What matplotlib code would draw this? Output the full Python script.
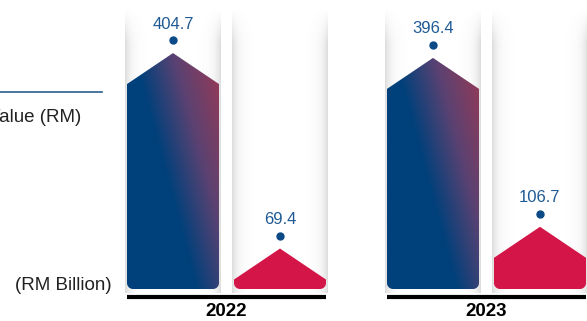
import numpy as np
import matplotlib as mpl
mpl.use('Agg')
import matplotlib.pyplot as plt
from matplotlib.path import Path
from matplotlib.patches import PathPatch
import matplotlib.transforms as mtransforms
from matplotlib.colors import to_rgb

mpl.rcParams['font.family'] = ['Liberation Sans', 'DejaVu Sans']

# data (RM billion)
years = ['2022', '2023']
total_value = [404.7, 396.4]
other_value = [69.4, 106.7]

# layout, in pixels
W, H, DPI = 587, 321, 100
BASE_PX = 32          # zero line above the bottom edge
PX_PER_UNIT = 0.583   # vertical scale
group_left = [127, 387]
bar_w = 92
bar_step = 107
head_px = 31
corner_px = 6

blue = np.array(to_rgb('#00407b'))
mid = np.array(to_rgb('#5a4272'))
maroon = np.array(to_rgb('#933a58'))
crimson = '#d31548'


def arrow_path(x0, w, top):
    """pentagon arrow with rounded bottom corners (x in px, y in values)"""
    ry = corner_px / PX_PER_UNIT
    rx = corner_px
    shoulder = max(top - head_px / PX_PER_UNIT, ry)
    th = np.linspace(np.pi, 1.5 * np.pi, 10)
    left_arc = np.c_[x0 + rx + rx * np.cos(th), ry + ry * np.sin(th)]
    th = np.linspace(1.5 * np.pi, 2 * np.pi, 10)
    right_arc = np.c_[x0 + w - rx + rx * np.cos(th), ry + ry * np.sin(th)]
    pts = np.vstack([[[x0, shoulder]], left_arc, right_arc,
                     [[x0 + w, shoulder], [x0 + w / 2, top], [x0, shoulder]]])
    codes = [Path.MOVETO] + [Path.LINETO] * (len(pts) - 2) + [Path.CLOSEPOLY]
    return Path(pts, codes)


def shadow(ax, x0, w, y0, y1):
    nx, ny = int(w) + 4, 120
    xs = np.linspace(0, w + 4, nx)
    ys = np.linspace(0, 1, ny)
    dl = xs
    dr = (w + 4) - xs
    a = 0.24 * (np.exp(-dl / 5.5) + np.exp(-dr / 5.5))
    fade = np.clip((1 - ys) / 0.12, 0, 1)  # fade out near the top
    alpha = fade[:, None] * a[None, :]
    img = np.zeros((ny, nx, 4))
    img[..., :3] = 0.45
    img[..., 3] = alpha
    ax.imshow(img, extent=[x0 - 2, x0 + w + 2, y1, y0], aspect='auto',
              interpolation='bilinear', zorder=1)


def main():
    fig = plt.figure(figsize=(W / DPI, H / DPI), dpi=DPI)
    ax = fig.add_axes([0, 0, 1, 1])
    ax.set_xlim(0, W)
    ax.set_ylim(-BASE_PX / PX_PER_UNIT, (H - BASE_PX) / PX_PER_UNIT)
    ax.axis('off')

    col_top = (H - BASE_PX - 8) / PX_PER_UNIT
    col_bot = -4 / PX_PER_UNIT

    tr_dot = mtransforms.offset_copy(ax.transData, fig=fig, y=13, units='dots')
    tr_lab = mtransforms.offset_copy(ax.transData, fig=fig, y=29, units='dots')

    for i, year in enumerate(years):
        x1 = group_left[i]
        x2 = x1 + bar_step

        for x0 in (x1, x2):
            shadow(ax, x0, bar_w, col_bot, col_top)

        # total value bar with gradient fill
        v = total_value[i]
        patch = PathPatch(arrow_path(x1, bar_w, v), facecolor='none',
                          edgecolor='none', zorder=2)
        ax.add_patch(patch)
        nx, ny = 120, 200
        gx = np.linspace(0, bar_w, nx)
        gy = np.linspace(0, v, ny)
        u = gx[None, :] + 0.27 * gy[:, None] * PX_PER_UNIT
        t = np.clip((u - 70) / (150 - 70), 0, 1)[..., None]
        # blue -> purple -> maroon
        t1 = np.clip(t * 2, 0, 1)
        t2 = np.clip(t * 2 - 1, 0, 1)
        grad = np.where(t < 0.5,
                        blue * (1 - t1) + mid * t1,
                        mid * (1 - t2) + maroon * t2)
        im = ax.imshow(grad, extent=[x1, x1 + bar_w, 0, v], origin='lower',
                       aspect='auto', interpolation='bilinear', zorder=2)
        im.set_clip_path(patch)

        # second bar
        v2 = other_value[i]
        ax.add_patch(PathPatch(arrow_path(x2, bar_w, v2), facecolor=crimson,
                               edgecolor='none', zorder=2))

        for xc, val in ((x1 + bar_w / 2, v), (x2 + bar_w / 2, v2)):
            ax.plot(xc, val, 'o', ms=5, color='#0b4a87', transform=tr_dot,
                    zorder=3)
            ax.text(xc, val, f'{val:.1f}', transform=tr_lab, ha='center',
                    va='center', fontsize=12, color='#1f5a94', zorder=3)

        # baseline and year
        ax.hlines(-8 / PX_PER_UNIT, x1, x2 + bar_w, color='black', lw=3,
                  zorder=3)
        ax.text((x1 + x2 + bar_w) / 2, -23 / PX_PER_UNIT, year, ha='center',
                va='center', fontsize=13.5, fontweight='bold', color='black')

    # legend fragment on the left
    ax.plot([0, 102], [197 / PX_PER_UNIT] * 2, color='#2b5f91', lw=1.2)
    ax.text(81, 172 / PX_PER_UNIT, 'Value (RM)', ha='right', va='center',
            fontsize=13.5, color='#222222')
    ax.text(112, 4 / PX_PER_UNIT, '(RM Billion)', ha='right', va='center',
            fontsize=13.5, color='#222222')

    fig.savefig('out.png', dpi=DPI)
    plt.close(fig)


if __name__ == "__main__":
    main()
